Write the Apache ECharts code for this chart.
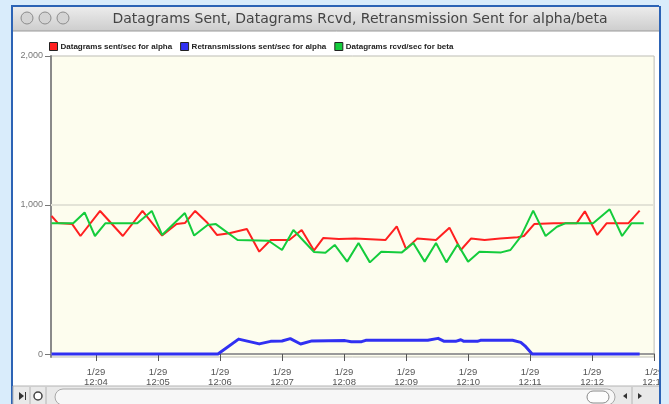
<!DOCTYPE html>
<html>
<head>
<meta charset="utf-8">
<script src="https://cdn.jsdelivr.net/npm/echarts@6/dist/echarts.min.js"></script>
<style>
html, body { margin: 0; padding: 0; background: #d9ecfb; }
#chart { width: 669px; height: 404px; }
</style>
</head>
<body>
<div id="chart"></div>
<script>
var windowTitle = 'Datagrams Sent, Datagrams Rcvd, Retransmission Sent for alpha/beta';
var seriesNames = ['Datagrams sent/sec for alpha', 'Retransmissions sent/sec for alpha', 'Datagrams rcvd/sec for beta'];
var dateLabel = '1/29';
var tickTimes = ['12:04', '12:05', '12:06', '12:07', '12:08', '12:09', '12:10', '12:11', '12:12', '12:13'];
var yTicks = [0, 1000, 2000];

// red: datagrams sent (alpha)
var redTimes = ['12:03:17', '12:03:23', '12:03:37', '12:03:45', '12:04:04', '12:04:26', '12:04:45', '12:05:04',
    '12:05:18', '12:05:26', '12:05:36', '12:05:48', '12:05:57', '12:06:09', '12:06:26', '12:06:38', '12:06:49',
    '12:07:07', '12:07:19', '12:07:31', '12:07:40', '12:07:55', '12:08:11', '12:08:40', '12:08:51', '12:09:00',
    '12:09:11', '12:09:29', '12:09:42', '12:09:53', '12:10:03', '12:10:16', '12:10:31', '12:10:48', '12:10:54',
    '12:11:04', '12:11:23', '12:11:45', '12:11:53', '12:12:05', '12:12:14', '12:12:35', '12:12:46'];
var redValues = [926, 880, 872, 792, 960, 792, 960, 795, 872, 879, 960, 879, 799, 810, 839, 687, 765,
    765, 832, 695, 779, 772, 776, 765, 856, 705, 776, 765, 848, 698, 776, 765, 776, 783, 792,
    872, 877, 877, 958, 799, 877, 877, 962];

// blue: retransmissions sent (alpha)
var blueTimes = ['12:03:17', '12:05:58', '12:06:18', '12:06:38', '12:06:49', '12:07:00', '12:07:08', '12:07:18',
    '12:07:29', '12:08:01', '12:08:07', '12:08:17', '12:08:21', '12:09:21', '12:09:31', '12:09:37', '12:09:48',
    '12:09:53', '12:09:56', '12:10:09', '12:10:12', '12:10:43', '12:10:51', '12:10:55', '12:11:02', '12:12:46'];
var blueValues = [0, 0, 100, 68, 85, 87, 103, 67, 88, 90, 83, 83, 92, 92, 105, 85, 85, 96, 85, 85, 92, 92, 78, 55, 0, 0];

// green: datagrams received (beta)
var greenTimes = ['12:03:17', '12:03:38', '12:03:49', '12:03:59', '12:04:09', '12:04:40', '12:04:54', '12:05:04',
    '12:05:26', '12:05:35', '12:05:48', '12:05:56', '12:06:17', '12:06:47', '12:07:00', '12:07:11', '12:07:31',
    '12:07:42', '12:07:51', '12:08:03', '12:08:14', '12:08:25', '12:08:36', '12:08:56', '12:09:07', '12:09:18',
    '12:09:29', '12:09:39', '12:09:50', '12:10:00', '12:10:11', '12:10:32', '12:10:41', '12:10:51', '12:11:03',
    '12:11:15', '12:11:26', '12:11:34', '12:12:01', '12:12:17', '12:12:29', '12:12:38', '12:12:50'];
var greenValues = [877, 877, 950, 792, 877, 877, 960, 799, 946, 795, 866, 872, 765, 760, 698, 832, 685,
    680, 732, 620, 745, 615, 687, 682, 745, 620, 745, 615, 737, 620, 687, 682, 698, 788, 962,
    792, 854, 877, 877, 971, 792, 877, 877];

// seconds after 12:00
function toSec(t) {
    var p = t.split(':');
    return (p[0] - 12) * 3600 + p[1] * 60 + (p[2] ? +p[2] : 0);
}
function pairs(times, values) {
    return times.map((t, i) => [toSec(t), values[i]]);
}
var tickSec = tickTimes.map(toSec);

var chartDom = document.getElementById('chart');
var chart = echarts.init(chartDom);

var frameBlue = '#2c63b5';
var bg = '#d9ecfb';

var option = {
    animation: false,
    backgroundColor: bg,
    graphic: [
        {type: 'rect', z: -5, shape: {x: 12, y: 6, width: 649, height: 410}, style: {fill: '#fff', stroke: frameBlue, lineWidth: 2}},
        {type: 'rect', z: -4, shape: {x: 13, y: 7, width: 647, height: 24},
            style: {fill: new echarts.graphic.LinearGradient(0, 0, 0, 1, [{offset: 0, color: '#ececec'}, {offset: 1, color: '#cdcdcd'}]), stroke: null}},
        {type: 'line', z: -4, shape: {x1: 13, y1: 31, x2: 660, y2: 31}, style: {stroke: '#9a9a9a', lineWidth: 1}},
        {type: 'circle', z: -3, shape: {cx: 27, cy: 18, r: 6}, style: {fill: '#d4d4d4', stroke: '#8c8c8c', lineWidth: 1}},
        {type: 'circle', z: -3, shape: {cx: 45, cy: 18, r: 6}, style: {fill: '#d4d4d4', stroke: '#8c8c8c', lineWidth: 1}},
        {type: 'circle', z: -3, shape: {cx: 63, cy: 18, r: 6}, style: {fill: '#d4d4d4', stroke: '#8c8c8c', lineWidth: 1}},
        {type: 'text', z: -3, x: 360, y: 19, style: {text: windowTitle, fill: '#444', font: '14px "DejaVu Sans"', align: 'center', verticalAlign: 'middle'}},
        // bottom scroll bar
        {type: 'rect', z: -4, shape: {x: 13, y: 386, width: 647, height: 20}, style: {fill: '#e9e9e9', stroke: '#b4b4b4', lineWidth: 1}},
        {type: 'polygon', z: -3, shape: {points: [[19, 392], [19, 400], [24, 396]]}, style: {fill: '#333'}},
        {type: 'line', z: -3, shape: {x1: 25.5, y1: 392, x2: 25.5, y2: 400}, style: {stroke: '#333', lineWidth: 1}},
        {type: 'line', z: -3, shape: {x1: 30, y1: 387, x2: 30, y2: 404}, style: {stroke: '#b4b4b4', lineWidth: 1}},
        {type: 'circle', z: -3, shape: {cx: 38, cy: 396, r: 4}, style: {fill: '#fff', stroke: '#444', lineWidth: 1.5}},
        {type: 'line', z: -3, shape: {x1: 46, y1: 387, x2: 46, y2: 404}, style: {stroke: '#b4b4b4', lineWidth: 1}},
        {type: 'rect', z: -3, shape: {x: 55, y: 389, width: 560, height: 16, r: 8}, style: {fill: '#f7f7f7', stroke: '#a8a8a8', lineWidth: 1}},
        {type: 'rect', z: -2, shape: {x: 587, y: 391, width: 22, height: 12, r: 6}, style: {fill: '#fdfdfd', stroke: '#8a8a8a', lineWidth: 1}},
        {type: 'polygon', z: -2, shape: {points: [[623, 396], [627, 393], [627, 399]]}, style: {fill: '#333'}},
        {type: 'line', z: -2, shape: {x1: 632, y1: 387, x2: 632, y2: 404}, style: {stroke: '#b4b4b4', lineWidth: 1}},
        {type: 'polygon', z: -2, shape: {points: [[638, 393], [638, 399], [642, 396]]}, style: {fill: '#333'}},
        // right window edge clips the last tick label
        {type: 'rect', z: 100, shape: {x: 659, y: 0, width: 10, height: 404}, style: {fill: bg}},
        {type: 'line', z: 101, shape: {x1: 660, y1: 6, x2: 660, y2: 404}, style: {stroke: frameBlue, lineWidth: 2}}
    ],
    legend: {
        data: seriesNames,
        left: 44,
        top: 37,
        icon: 'rect',
        itemWidth: 8,
        itemHeight: 8,
        itemGap: 8,
        itemStyle: {borderColor: '#222', borderWidth: 1},
        textStyle: {fontFamily: 'Liberation Sans', fontWeight: 'bold', fontSize: 8, color: '#222', padding: [0, 0, 0, -2]}
    },
    grid: {
        left: 51,
        right: 12,
        top: 56,
        bottom: 47,
        show: true,
        backgroundColor: '#fdfdee',
        borderColor: '#bdbdb5',
        borderWidth: 1
    },
    xAxis: {
        type: 'value',
        min: 196.5,
        max: 780,
        axisLine: {lineStyle: {color: '#9a9a9a', width: 2}},
        axisTick: {customValues: tickSec, length: 7, lineStyle: {color: '#555', width: 1}},
        splitLine: {show: false},
        axisLabel: {
            customValues: tickSec,
            margin: 10,
            fontFamily: 'Liberation Sans',
            fontSize: 9.5,
            lineHeight: 10,
            color: '#555',
            formatter: (value) => {
                var m = Math.round(value / 60);
                return dateLabel + '\n12:' + (m < 10 ? '0' + m : m);
            }
        }
    },
    yAxis: {
        type: 'value',
        min: -20,
        max: 2000,
        axisLine: {show: true, lineStyle: {color: '#8a8a8a', width: 2}},
        axisTick: {show: true, customValues: yTicks, length: 6, lineStyle: {color: '#777'}},
        splitLine: {show: false},
        axisLabel: {
            customValues: yTicks,
            margin: 8,
            fontFamily: 'Liberation Sans',
            fontSize: 9,
            color: '#777',
            formatter: (value) => value === 0 ? '0' : (value / 1000) + ',000'
        }
    },
    series: [
        {
            name: seriesNames[0],
            type: 'line',
            data: pairs(redTimes, redValues),
            color: '#ff2020',
            symbol: 'none',
            lineStyle: {width: 2},
            markLine: {
                silent: true,
                symbol: 'none',
                label: {show: false},
                lineStyle: {color: '#e3e3d7', width: 2, type: 'solid'},
                data: [{yAxis: yTicks[1]}]
            },
            z: 3
        },
        {
            name: seriesNames[1],
            type: 'line',
            data: pairs(blueTimes, blueValues),
            color: '#3030f2',
            symbol: 'none',
            lineStyle: {width: 3, join: 'round'},
            z: 4
        },
        {
            name: seriesNames[2],
            type: 'line',
            data: pairs(greenTimes, greenValues),
            color: '#14cc3c',
            symbol: 'none',
            lineStyle: {width: 2},
            z: 3
        }
    ]
};

chart.setOption(option);
</script>
</body>
</html>
